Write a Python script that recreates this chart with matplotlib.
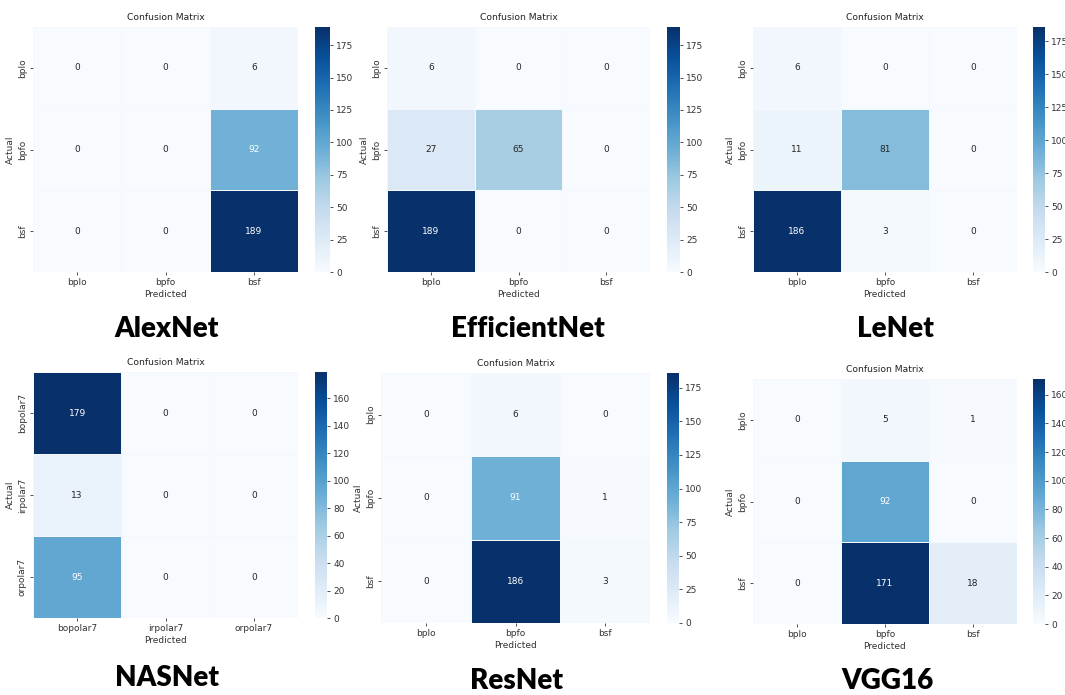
import matplotlib
matplotlib.use("Agg")
import matplotlib.pyplot as plt
import seaborn as sns
import numpy as np

# Class labels
labels_b = ["bplo", "bpfo", "bsf"]
labels_polar = ["bopolar7", "irpolar7", "orpolar7"]

# Confusion matrices (rows = actual, cols = predicted)
cm_alexnet = [[0, 0, 6], [0, 0, 92], [0, 0, 189]]
cm_efficientnet = [[6, 0, 0], [27, 65, 0], [189, 0, 0]]
cm_lenet = [[6, 0, 0], [11, 81, 0], [186, 3, 0]]
cm_nasnet = [[179, 0, 0], [13, 0, 0], [95, 0, 0]]
cm_resnet = [[0, 6, 0], [0, 91, 1], [0, 186, 3]]
cm_vgg16 = [[0, 5, 1], [0, 92, 0], [0, 171, 18]]

model_names = ["AlexNet", "EfficientNet", "LeNet", "NASNet", "ResNet", "VGG16"]

W, H = 1065, 695
fig = plt.figure(figsize=(W / 100, H / 100), dpi=100)
fig.patch.set_facecolor("white")


def px_rect(x0, y0, x1, y1):
    #Convert pixel box (top-left origin) to figure fraction
    return [x0 / W, 1 - y1 / H, (x1 - x0) / W, (y1 - y0) / H]


def draw_cm(cm, labels, name, hm_box, cb_box, title_xy):
    ax = fig.add_axes(px_rect(*hm_box))
    cax = fig.add_axes(px_rect(*cb_box))
    sns.heatmap(np.array(cm), annot=True, fmt="d", cmap="Blues", ax=ax, cbar_ax=cax,
                xticklabels=labels, yticklabels=labels, linewidths=0.4, linecolor="#f4f8fc",
                annot_kws={"fontsize": 6.5})
    ax.set_title("Confusion Matrix", fontsize=6.6, pad=5, color="#222222")
    ax.set_xlabel("Predicted", fontsize=6.5, labelpad=2, color="#333333")
    ax.set_ylabel("Actual", fontsize=6.5, labelpad=2, color="#333333")
    ax.tick_params(labelsize=6.5, length=2.5, width=0.6, pad=2, colors="#333333")
    plt.setp(ax.get_yticklabels(), rotation=90, va="center")
    plt.setp(ax.get_xticklabels(), rotation=0)
    cax.tick_params(labelsize=6.5, length=2.5, width=0.6, pad=2, colors="#333333")
    for s in cax.spines.values():
        s.set_visible(False)
    fig.text(title_xy[0] / W, 1 - title_xy[1] / H, name, fontsize=20, fontweight="heavy",
             family="Lato", ha="center", va="center", color="black")


draw_cm(cm_alexnet, labels_b, model_names[0], (33, 27, 298, 272), (315, 27, 330, 272), (167, 329))
draw_cm(cm_efficientnet, labels_b, model_names[1], (387, 27, 650, 272), (667, 27, 680, 272), (528, 329))
draw_cm(cm_lenet, labels_b, model_names[2], (753, 27, 1017, 272), (1033, 27, 1045, 272), (895, 329))
draw_cm(cm_nasnet, labels_polar, model_names[3], (33, 372, 298, 618), (315, 372, 327, 618), (167, 678))
draw_cm(cm_resnet, labels_b, model_names[4], (381, 373, 650, 623), (667, 373, 679, 623), (517, 681))
draw_cm(cm_vgg16, labels_b, model_names[5], (753, 379, 1017, 624), (1033, 379, 1045, 624), (887, 681))

fig.savefig("out.png", dpi=100, facecolor="white")
